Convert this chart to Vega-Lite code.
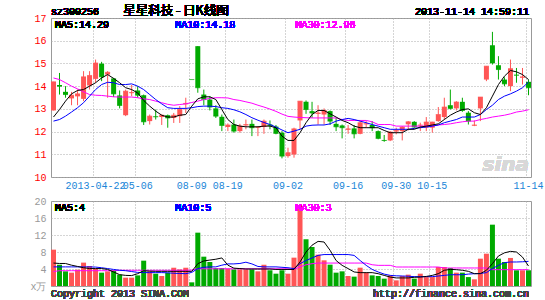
{
  "$schema": "https://vega.github.io/schema/vega-lite/v6.json",
  "background": "white",
  "padding": {"left": 29, "top": 4, "right": 0, "bottom": 0},
  "spacing": 24,
  "bounds": "flush",
  "config": {
    "view": {"stroke": "#999999", "strokeWidth": 1},
    "font": "Liberation Mono",
    "text": {"strokeWidth": 0},
    "axis": {"labelFont": "Liberation Mono", "labelFontSize": 10, "gridColor": "#aaaaaa", "gridDash": [1, 2], "gridWidth": 1, "domain": false, "ticks": false, "labelOverlap": false, "labelSeparation": 0},
    "axisY": {"labelOverlap": false},
    "axisLeft": {"labelOverlap": false},
    "axisQuantitative": {"labelOverlap": false}
  },
  "data": {"values": [
    {"d":"2013-04-11","o":12.93,"h":14.19,"l":12.93,"c":14.19,"v":8.55,"m5":12.64,"m10":12.46,"m30":14.36,"vm5":5.4,"vm10":4.5,"vm30":3.4},
    {"d":"2013-04-12","o":14.05,"h":14.58,"l":13.63,"c":14.0,"v":5.0,"m5":12.97,"m10":12.53,"m30":14.29,"vm5":5.3,"vm10":4.5,"vm30":3.6},
    {"d":"2013-04-15","o":13.75,"h":14.0,"l":13.49,"c":13.63,"v":3.45,"m5":13.34,"m10":12.68,"m30":14.15,"vm5":5.3,"vm10":4.5,"vm30":3.6},
    {"d":"2013-04-16","o":13.46,"h":13.75,"l":13.16,"c":13.6,"v":3.14,"m5":13.66,"m10":12.86,"m30":14.0,"vm5":4.9,"vm10":4.5,"vm30":3.6},
    {"d":"2013-04-17","o":13.55,"h":13.85,"l":13.16,"c":13.66,"v":3.84,"m5":13.81,"m10":13.05,"m30":13.88,"vm5":4.6,"vm10":4.5,"vm30":3.6},
    {"d":"2013-04-18","o":13.44,"h":14.66,"l":13.34,"c":14.41,"v":5.5,"m5":13.85,"m10":13.27,"m30":13.75,"vm5":4.3,"vm10":4.5,"vm30":3.6},
    {"d":"2013-04-19","o":14.03,"h":14.66,"l":13.85,"c":14.47,"v":4.7,"m5":14.0,"m10":13.56,"m30":13.63,"vm5":4.1,"vm10":4.5,"vm30":3.6},
    {"d":"2013-04-22","o":14.32,"h":15.17,"l":14.15,"c":15.02,"v":4.1,"m5":14.15,"m10":13.85,"m30":13.6,"vm5":4.1,"vm10":4.45,"vm30":3.6},
    {"d":"2013-04-23","o":14.99,"h":15.07,"l":14.22,"c":14.41,"v":3.14,"m5":14.36,"m10":14.07,"m30":13.59,"vm5":4.1,"vm10":4.3,"vm30":3.6},
    {"d":"2013-04-24","o":14.51,"h":14.66,"l":13.49,"c":14.61,"v":3.45,"m5":14.51,"m10":14.17,"m30":13.56,"vm5":3.9,"vm10":4.1,"vm30":3.6},
    {"d":"2013-04-25","o":14.34,"h":14.36,"l":13.52,"c":13.66,"v":3.7,"m5":14.34,"m10":14.15,"m30":13.53,"vm5":3.3,"vm10":3.9,"vm30":3.6},
    {"d":"2013-04-26","o":13.59,"h":13.81,"l":13.02,"c":13.15,"v":2.67,"m5":14.15,"m10":14.07,"m30":13.52,"vm5":2.67,"vm10":3.7,"vm30":3.7},
    {"d":"2013-05-02","o":12.72,"h":13.85,"l":12.68,"c":13.78,"v":1.96,"m5":13.93,"m10":14.07,"m30":13.52,"vm5":2.5,"vm10":3.6,"vm30":3.7},
    {"d":"2013-05-03","o":13.69,"h":14.05,"l":13.56,"c":13.72,"v":1.96,"m5":13.85,"m10":14.1,"m30":13.52,"vm5":2.45,"vm10":3.4,"vm30":3.7},
    {"d":"2013-05-06","o":13.81,"h":14.0,"l":13.49,"c":13.6,"v":2.5,"m5":13.7,"m10":14.0,"m30":13.49,"vm5":2.9,"vm10":3.2,"vm30":3.7},
    {"d":"2013-05-07","o":13.6,"h":13.63,"l":12.29,"c":12.43,"v":5.96,"m5":13.37,"m10":13.85,"m30":13.44,"vm5":3.6,"vm10":3.15,"vm30":3.7},
    {"d":"2013-05-08","o":12.46,"h":12.75,"l":12.31,"c":12.68,"v":3.45,"m5":13.12,"m10":13.63,"m30":13.41,"vm5":3.5,"vm10":3.15,"vm30":3.7},
    {"d":"2013-05-09","o":12.67,"h":12.97,"l":12.53,"c":12.65,"v":2.9,"m5":12.9,"m10":13.41,"m30":13.34,"vm5":3.45,"vm10":3.15,"vm30":3.7},
    {"d":"2013-05-10","o":12.64,"h":12.75,"l":12.29,"c":12.72,"v":2.35,"m5":12.72,"m10":13.22,"m30":13.27,"vm5":3.45,"vm10":3.15,"vm30":3.7},
    {"d":"2013-05-13","o":12.72,"h":12.75,"l":12.17,"c":12.6,"v":3.14,"m5":12.64,"m10":13.05,"m30":13.2,"vm5":3.45,"vm10":3.1,"vm30":3.7},
    {"d":"2013-05-14","o":12.6,"h":12.82,"l":12.38,"c":12.72,"v":4.3,"m5":12.64,"m10":13.02,"m30":13.16,"vm5":3.45,"vm10":3.0,"vm30":3.7},
    {"d":"2013-05-15","o":12.68,"h":13.12,"l":12.38,"c":12.97,"v":3.9,"m5":12.72,"m10":13.02,"m30":13.19,"vm5":3.45,"vm10":2.95,"vm30":3.7},
    {"d":"2013-05-16","o":13.2,"h":13.49,"l":12.82,"c":13.24,"v":4.3,"m5":12.75,"m10":13.02,"m30":13.22,"vm5":3.45,"vm10":2.9,"vm30":3.7},
    {"d":"2013-08-09","o":14.29,"h":14.29,"l":14.29,"c":14.29,"v":0.86,"m5":13.12,"m10":13.05,"m30":13.28,"vm5":3.45,"vm10":3.2,"vm30":3.75},
    {"d":"2013-08-12","o":15.76,"h":15.76,"l":13.71,"c":13.93,"v":12.55,"m5":13.44,"m10":13.1,"m30":13.34,"vm5":5.25,"vm10":4.1,"vm30":4.05},
    {"d":"2013-08-13","o":13.63,"h":13.85,"l":13.16,"c":13.41,"v":6.9,"m5":13.53,"m10":13.12,"m30":13.41,"vm5":5.9,"vm10":4.4,"vm30":4.05},
    {"d":"2013-08-14","o":13.41,"h":13.56,"l":12.93,"c":13.08,"v":5.65,"m5":13.53,"m10":13.12,"m30":13.46,"vm5":6.1,"vm10":4.5,"vm30":4.05},
    {"d":"2013-08-15","o":13.02,"h":13.16,"l":12.6,"c":12.68,"v":4.24,"m5":13.41,"m10":13.1,"m30":13.49,"vm5":6.3,"vm10":4.5,"vm30":4.05},
    {"d":"2013-08-16","o":12.65,"h":12.75,"l":12.02,"c":12.27,"v":4.24,"m5":12.97,"m10":13.05,"m30":13.49,"vm5":6.6,"vm10":4.9,"vm30":4.05},
    {"d":"2013-08-19","o":12.2,"h":12.36,"l":12.02,"c":12.29,"v":4.1,"m5":12.53,"m10":13.02,"m30":13.48,"vm5":4.9,"vm10":5.2,"vm30":4.05},
    {"d":"2013-08-20","o":12.31,"h":12.53,"l":11.95,"c":12.02,"v":3.9,"m5":12.31,"m10":12.96,"m30":13.41,"vm5":4.2,"vm10":5.2,"vm30":4.05},
    {"d":"2013-08-21","o":12.02,"h":12.34,"l":11.95,"c":12.24,"v":3.9,"m5":12.24,"m10":12.87,"m30":13.37,"vm5":4.1,"vm10":5.3,"vm30":4.05},
    {"d":"2013-08-22","o":12.27,"h":12.53,"l":12.1,"c":12.31,"v":3.9,"m5":12.21,"m10":12.75,"m30":13.31,"vm5":4.0,"vm10":5.6,"vm30":4.05},
    {"d":"2013-08-23","o":12.34,"h":12.53,"l":11.8,"c":12.17,"v":3.9,"m5":12.21,"m10":12.61,"m30":13.25,"vm5":4.0,"vm10":5.2,"vm30":4.05},
    {"d":"2013-08-26","o":12.17,"h":12.24,"l":11.8,"c":12.2,"v":3.45,"m5":12.21,"m10":12.5,"m30":13.16,"vm5":4.0,"vm10":4.6,"vm30":4.05},
    {"d":"2013-08-27","o":12.2,"h":12.53,"l":11.9,"c":12.46,"v":5.0,"m5":12.24,"m10":12.4,"m30":13.08,"vm5":4.0,"vm10":4.5,"vm30":4.05},
    {"d":"2013-08-28","o":12.31,"h":12.49,"l":12.1,"c":12.27,"v":3.7,"m5":12.24,"m10":12.31,"m30":12.99,"vm5":4.0,"vm10":4.5,"vm30":4.05},
    {"d":"2013-08-29","o":12.22,"h":12.29,"l":11.88,"c":11.92,"v":2.9,"m5":12.17,"m10":12.2,"m30":12.89,"vm5":3.9,"vm10":4.5,"vm30":4.05},
    {"d":"2013-08-30","o":11.95,"h":12.02,"l":10.82,"c":10.92,"v":3.7,"m5":11.8,"m10":12.07,"m30":12.77,"vm5":3.9,"vm10":4.4,"vm30":4.05},
    {"d":"2013-09-02","o":10.92,"h":11.29,"l":10.85,"c":11.07,"v":2.9,"m5":11.61,"m10":11.95,"m30":12.67,"vm5":3.9,"vm10":4.3,"vm30":4.05},
    {"d":"2013-09-03","o":10.99,"h":12.17,"l":10.85,"c":12.12,"v":6.67,"m5":11.61,"m10":12.02,"m30":12.64,"vm5":3.9,"vm10":4.1,"vm30":3.9},
    {"d":"2013-09-04","o":12.49,"h":13.34,"l":12.1,"c":13.34,"v":18.98,"m5":11.95,"m10":12.1,"m30":12.62,"vm5":5.65,"vm10":5.25,"vm30":4.5},
    {"d":"2013-09-05","o":13.31,"h":13.37,"l":12.78,"c":12.97,"v":10.98,"m5":12.39,"m10":12.24,"m30":12.61,"vm5":8.0,"vm10":6.0,"vm30":5.0},
    {"d":"2013-09-06","o":12.9,"h":13.31,"l":12.6,"c":12.82,"v":9.18,"m5":12.75,"m10":12.28,"m30":12.6,"vm5":9.6,"vm10":6.6,"vm30":5.25},
    {"d":"2013-09-09","o":12.78,"h":13.16,"l":12.31,"c":12.82,"v":7.37,"m5":12.93,"m10":12.29,"m30":12.6,"vm5":10.5,"vm10":7.2,"vm30":5.4},
    {"d":"2013-09-10","o":12.75,"h":13.02,"l":12.31,"c":12.93,"v":6.04,"m5":12.93,"m10":12.29,"m30":12.6,"vm5":10.35,"vm10":7.4,"vm30":5.4},
    {"d":"2013-09-11","o":12.9,"h":12.93,"l":12.29,"c":12.46,"v":5.02,"m5":12.78,"m10":12.34,"m30":12.6,"vm5":8.4,"vm10":7.4,"vm30":5.4},
    {"d":"2013-09-12","o":12.34,"h":12.6,"l":12.02,"c":12.21,"v":3.14,"m5":12.64,"m10":12.46,"m30":12.6,"vm5":6.0,"vm10":7.4,"vm30":5.4},
    {"d":"2013-09-13","o":12.27,"h":12.31,"l":11.7,"c":12.17,"v":3.45,"m5":12.49,"m10":12.53,"m30":12.53,"vm5":4.86,"vm10":7.4,"vm30":5.4},
    {"d":"2013-09-16","o":12.08,"h":12.29,"l":11.9,"c":12.12,"v":2.35,"m5":12.39,"m10":12.58,"m30":12.49,"vm5":4.1,"vm10":7.4,"vm30":5.4},
    {"d":"2013-09-17","o":12.14,"h":12.29,"l":11.7,"c":11.9,"v":2.2,"m5":12.24,"m10":12.53,"m30":12.49,"vm5":3.3,"vm10":7.2,"vm30":5.4},
    {"d":"2013-09-18","o":11.9,"h":12.46,"l":11.88,"c":12.39,"v":4.31,"m5":12.17,"m10":12.46,"m30":12.49,"vm5":3.14,"vm10":6.0,"vm30":5.4},
    {"d":"2013-09-23","o":12.32,"h":12.46,"l":12.17,"c":12.35,"v":3.14,"m5":12.17,"m10":12.39,"m30":12.49,"vm5":3.14,"vm10":4.86,"vm30":5.4},
    {"d":"2013-09-24","o":12.29,"h":12.46,"l":12.02,"c":12.17,"v":2.5,"m5":12.17,"m10":12.31,"m30":12.43,"vm5":3.14,"vm10":3.9,"vm30":5.0},
    {"d":"2013-09-25","o":12.02,"h":12.05,"l":11.66,"c":11.7,"v":2.35,"m5":12.17,"m10":12.24,"m30":12.31,"vm5":2.9,"vm10":3.3,"vm30":4.86},
    {"d":"2013-09-26","o":11.63,"h":11.85,"l":11.55,"c":11.61,"v":1.73,"m5":12.05,"m10":12.17,"m30":12.31,"vm5":2.5,"vm10":2.8,"vm30":4.86},
    {"d":"2013-09-27","o":11.61,"h":12.02,"l":11.58,"c":11.98,"v":2.5,"m5":11.95,"m10":12.1,"m30":12.31,"vm5":2.1,"vm10":2.5,"vm30":4.86},
    {"d":"2013-09-30","o":12.0,"h":12.17,"l":11.88,"c":12.05,"v":1.33,"m5":11.95,"m10":12.1,"m30":12.24,"vm5":1.9,"vm10":2.4,"vm30":4.47},
    {"d":"2013-10-08","o":12.02,"h":12.24,"l":11.61,"c":12.2,"v":2.35,"m5":11.95,"m10":12.1,"m30":12.24,"vm5":1.9,"vm10":2.35,"vm30":4.47},
    {"d":"2013-10-09","o":12.32,"h":12.46,"l":12.05,"c":12.43,"v":2.67,"m5":12.1,"m10":12.1,"m30":12.24,"vm5":1.9,"vm10":2.3,"vm30":4.47},
    {"d":"2013-10-10","o":12.43,"h":12.46,"l":12.17,"c":12.2,"v":1.73,"m5":12.1,"m10":12.14,"m30":12.24,"vm5":2.05,"vm10":2.2,"vm30":4.47},
    {"d":"2013-10-11","o":12.27,"h":12.39,"l":12.02,"c":12.29,"v":2.9,"m5":12.2,"m10":12.17,"m30":12.24,"vm5":2.1,"vm10":2.2,"vm30":4.47},
    {"d":"2013-10-14","o":12.17,"h":12.64,"l":12.02,"c":12.42,"v":2.1,"m5":12.24,"m10":12.2,"m30":12.24,"vm5":2.25,"vm10":2.2,"vm30":4.47},
    {"d":"2013-10-15","o":12.17,"h":12.43,"l":11.95,"c":12.42,"v":2.1,"m5":12.29,"m10":12.24,"m30":12.24,"vm5":2.5,"vm10":2.2,"vm30":4.47},
    {"d":"2013-10-24","o":12.46,"h":13.08,"l":12.43,"c":12.75,"v":4.47,"m5":12.34,"m10":12.29,"m30":12.29,"vm5":2.9,"vm10":2.35,"vm30":4.47},
    {"d":"2013-10-25","o":12.64,"h":13.49,"l":12.53,"c":13.08,"v":4.47,"m5":12.53,"m10":12.39,"m30":12.31,"vm5":3.7,"vm10":2.5,"vm30":4.24},
    {"d":"2013-10-28","o":13.16,"h":13.85,"l":12.97,"c":13.02,"v":4.24,"m5":12.72,"m10":12.46,"m30":12.34,"vm5":3.9,"vm10":2.65,"vm30":4.24},
    {"d":"2013-10-29","o":13.02,"h":13.34,"l":12.93,"c":13.3,"v":3.14,"m5":12.86,"m10":12.53,"m30":12.39,"vm5":3.84,"vm10":2.65,"vm30":4.24},
    {"d":"2013-10-30","o":13.31,"h":13.49,"l":12.87,"c":12.93,"v":3.14,"m5":12.97,"m10":12.64,"m30":12.43,"vm5":3.7,"vm10":2.65,"vm30":4.24},
    {"d":"2013-10-31","o":12.83,"h":12.9,"l":12.31,"c":12.46,"v":2.1,"m5":13.0,"m10":12.64,"m30":12.46,"vm5":3.45,"vm10":2.8,"vm30":4.24},
    {"d":"2013-11-01","o":12.26,"h":12.49,"l":12.24,"c":12.29,"v":1.57,"m5":12.83,"m10":12.64,"m30":12.46,"vm5":2.9,"vm10":2.9,"vm30":4.24},
    {"d":"2013-11-04","o":13.02,"h":13.52,"l":12.46,"c":13.52,"v":6.43,"m5":12.75,"m10":12.75,"m30":12.53,"vm5":2.9,"vm10":2.95,"vm30":4.24},
    {"d":"2013-11-05","o":14.29,"h":14.88,"l":14.22,"c":14.88,"v":7.6,"m5":13.05,"m10":12.97,"m30":12.58,"vm5":3.7,"vm10":3.14,"vm30":4.24},
    {"d":"2013-11-06","o":15.8,"h":16.39,"l":14.95,"c":15.02,"v":14.43,"m5":13.56,"m10":13.16,"m30":12.64,"vm5":5.25,"vm10":4.1,"vm30":3.84},
    {"d":"2013-11-07","o":14.92,"h":15.32,"l":14.29,"c":14.73,"v":6.43,"m5":14.07,"m10":13.41,"m30":12.68,"vm5":7.06,"vm10":4.86,"vm30":3.84},
    {"d":"2013-11-08","o":14.29,"h":14.39,"l":14.0,"c":14.1,"v":5.65,"m5":14.44,"m10":13.56,"m30":12.72,"vm5":7.8,"vm10":5.5,"vm30":3.84},
    {"d":"2013-11-11","o":14.0,"h":15.17,"l":13.78,"c":14.77,"v":6.6,"m5":14.69,"m10":13.66,"m30":12.78,"vm5":8.15,"vm10":5.65,"vm30":3.84},
    {"d":"2013-11-12","o":14.5,"h":14.8,"l":14.15,"c":14.48,"v":3.7,"m5":14.63,"m10":13.78,"m30":12.86,"vm5":8.0,"vm10":5.65,"vm30":3.84},
    {"d":"2013-11-13","o":14.37,"h":14.8,"l":14.07,"c":14.41,"v":3.7,"m5":14.51,"m10":13.93,"m30":12.9,"vm5":6.8,"vm10":5.7,"vm30":3.84},
    {"d":"2013-11-14","o":14.19,"h":14.29,"l":13.6,"c":13.93,"v":3.7,"m5":14.29,"m10":14.18,"m30":12.96,"vm5":4.7,"vm10":5.8,"vm30":3.84}
  ]},
  "vconcat": [
    {
      "width": 480,
      "height": 159,
      "encoding": {
        "x": {"field": "d", "type": "ordinal", "sort": null, "title": null,
          "scale": {"paddingInner": 0.17, "paddingOuter": 0},
          "axis": {"values": ["2013-04-22","2013-05-06","2013-08-09","2013-08-19","2013-09-02","2013-09-16","2013-09-30","2013-10-15","2013-11-14"],
            "bandPosition": 0, "labelExpr": "datum.value == '2013-04-22' ? datum.value : substring(datum.value, 5)",
            "grid": true, "labelAngle": 0, "labelAlign": "center", "labelColor": "#1a86d8", "labelPadding": 3, "labelOverlap": false, "labelBound": false, "labelFlush": false}}
      },
      "layer": [
        {"mark": {"type": "rule", "strokeWidth": 1},
         "encoding": {
           "y": {"field": "l", "type": "quantitative", "title": null, "scale": {"domain": [10, 17], "nice": false, "zero": false},
             "axis": {"values": [10,11,12,13,14,15,16,17], "tickCount": 8, "grid": true, "labelColor": "#ff0000", "labelPadding": 5, "labelOverlap": false, "labelSeparation": 0, "labelBound": false}},
           "y2": {"field": "h"},
           "color": {"condition": {"test": "datum.c > datum.o", "value": "#ff5555"}, "value": "#00aa00"}}},
        {"mark": {"type": "bar"},
         "encoding": {
           "y": {"field": "o", "type": "quantitative", "title": null},
           "y2": {"field": "c"},
           "color": {"condition": {"test": "datum.c > datum.o", "value": "#ff5555"}, "value": "#00aa00"}}},
        {"mark": {"type": "tick", "thickness": 1, "size": 5},
         "encoding": {
           "y": {"field": "c", "type": "quantitative", "title": null},
           "color": {"condition": {"test": "datum.c > datum.o", "value": "#ff5555"}, "value": "#00aa00"}}},
        {"mark": {"type": "line", "color": "#ff00ff", "strokeWidth": 1},
         "encoding": {"y": {"field": "m30", "type": "quantitative", "title": null}}},
        {"mark": {"type": "line", "color": "#0000ff", "strokeWidth": 1},
         "encoding": {"y": {"field": "m10", "type": "quantitative", "title": null}}},
        {"mark": {"type": "line", "color": "#000000", "strokeWidth": 1},
         "encoding": {"y": {"field": "m5", "type": "quantitative", "title": null}}},
        {"mark": {"type": "text", "align": "left", "baseline": "top", "dx": 4, "dy": 2, "fontSize": 10, "font": "Liberation Mono", "fill": "#000000", "strokeWidth": 0},
         "encoding": {"x": {"datum": "2013-04-11", "type": "ordinal", "bandPosition": 0}, "y": {"datum": 17, "type": "quantitative"}, "text": {"value": "MA5:14.29"}}},
        {"mark": {"type": "text", "align": "left", "baseline": "top", "dx": 4, "dy": 2, "fontSize": 10, "font": "Liberation Mono", "fill": "#0000ff", "strokeWidth": 0},
         "encoding": {"x": {"datum": "2013-05-14", "type": "ordinal", "bandPosition": 0}, "y": {"datum": 17, "type": "quantitative"}, "text": {"value": "MA10:14.18"}}},
        {"mark": {"type": "text", "align": "left", "baseline": "top", "dx": 4, "dy": 2, "fontSize": 10, "font": "Liberation Mono", "fill": "#ff00ff", "strokeWidth": 0},
         "encoding": {"x": {"datum": "2013-09-03", "type": "ordinal", "bandPosition": 0}, "y": {"datum": 17, "type": "quantitative"}, "text": {"value": "MA30:12.96"}}},
        {"mark": {"type": "text", "align": "left", "baseline": "alphabetic", "dy": -3, "fontSize": 10, "font": "Liberation Mono", "fill": "#000000", "strokeWidth": 0},
         "encoding": {"x": {"datum": "2013-04-11", "type": "ordinal", "bandPosition": 0}, "y": {"datum": 17, "type": "quantitative"}, "text": {"value": "sz300256"}}},
        {"mark": {"type": "text", "align": "left", "baseline": "alphabetic", "dy": -3, "fontSize": 12.5, "font": "Noto Sans CJK SC", "fill": "#000000", "strokeWidth": 0},
         "encoding": {"x": {"datum": "2013-05-02", "type": "ordinal", "bandPosition": 0}, "y": {"datum": 17, "type": "quantitative"}, "text": {"value": "星星科技 - 日K线图"}}},
        {"mark": {"type": "text", "align": "right", "baseline": "alphabetic", "dy": -3, "dx": -2, "fontSize": 10, "font": "Liberation Mono", "fill": "#000000", "strokeWidth": 0},
         "encoding": {"x": {"datum": "2013-11-14", "type": "ordinal", "bandPosition": 1}, "y": {"datum": 17, "type": "quantitative"}, "text": {"value": "2013-11-14 14:59:11"}}},
        {"mark": {"type": "text", "align": "right", "baseline": "alphabetic", "dx": -2, "fontSize": 20, "font": "DejaVu Sans", "fontStyle": "italic", "fontWeight": "bold", "fill": "#d8d8d8", "strokeWidth": 0},
         "encoding": {"x": {"datum": "2013-11-14", "type": "ordinal", "bandPosition": 1}, "y": {"datum": 10.25, "type": "quantitative"}, "text": {"value": "sina"}}}
      ]
    },
    {
      "width": 480,
      "height": 85,
      "encoding": {
        "x": {"field": "d", "type": "ordinal", "sort": null, "title": null,
          "scale": {"paddingInner": 0.17, "paddingOuter": 0},
          "axis": {"values": ["2013-04-22","2013-05-06","2013-08-09","2013-08-19","2013-09-02","2013-09-16","2013-09-30","2013-10-15","2013-11-14"],
            "bandPosition": 0, "grid": true, "labels": false}}
      },
      "layer": [
        {"mark": {"type": "bar"},
         "encoding": {
           "y": {"field": "v", "type": "quantitative", "title": null, "scale": {"domain": [0, 20], "nice": false},
             "axis": {"values": [0,4,8,12,16,20], "tickCount": 6, "grid": true, "labelColor": "#999999", "labelPadding": 5, "labelOverlap": false, "labelSeparation": 0, "labelBound": false,
               "labelExpr": "datum.value == 0 ? 'x万' : datum.label"}},
           "color": {"condition": {"test": "datum.c > datum.o", "value": "#ff5555"}, "value": "#00aa00"}}},
        {"mark": {"type": "line", "color": "#ff00ff", "strokeWidth": 1},
         "encoding": {"y": {"field": "vm30", "type": "quantitative", "title": null}}},
        {"mark": {"type": "line", "color": "#0000ff", "strokeWidth": 1},
         "encoding": {"y": {"field": "vm10", "type": "quantitative", "title": null}}},
        {"mark": {"type": "line", "color": "#000000", "strokeWidth": 1},
         "encoding": {"y": {"field": "vm5", "type": "quantitative", "title": null}}},
        {"mark": {"type": "text", "align": "left", "baseline": "top", "dx": 4, "dy": 2, "fontSize": 10, "font": "Liberation Mono", "fill": "#000000", "strokeWidth": 0},
         "encoding": {"x": {"datum": "2013-04-11", "type": "ordinal", "bandPosition": 0}, "y": {"datum": 20, "type": "quantitative"}, "text": {"value": "MA5:4"}}},
        {"mark": {"type": "text", "align": "left", "baseline": "top", "dx": 4, "dy": 2, "fontSize": 10, "font": "Liberation Mono", "fill": "#0000ff", "strokeWidth": 0},
         "encoding": {"x": {"datum": "2013-05-14", "type": "ordinal", "bandPosition": 0}, "y": {"datum": 20, "type": "quantitative"}, "text": {"value": "MA10:5"}}},
        {"mark": {"type": "text", "align": "left", "baseline": "top", "dx": 4, "dy": 2, "fontSize": 10, "font": "Liberation Mono", "fill": "#ff00ff", "strokeWidth": 0},
         "encoding": {"x": {"datum": "2013-09-03", "type": "ordinal", "bandPosition": 0}, "y": {"datum": 20, "type": "quantitative"}, "text": {"value": "MA30:3"}}},
        {"mark": {"type": "text", "align": "left", "baseline": "top", "dy": 3, "fontSize": 10, "font": "Liberation Mono", "fill": "#444444", "strokeWidth": 0},
         "encoding": {"x": {"datum": "2013-04-11", "type": "ordinal", "bandPosition": 0}, "y": {"datum": 0, "type": "quantitative"}, "text": {"value": "Copyright 2013 SINA.COM"}}},
        {"mark": {"type": "text", "align": "right", "baseline": "top", "dy": 3, "dx": -2, "fontSize": 10, "font": "Liberation Mono", "fill": "#444444", "strokeWidth": 0},
         "encoding": {"x": {"datum": "2013-11-14", "type": "ordinal", "bandPosition": 1}, "y": {"datum": 0, "type": "quantitative"}, "text": {"value": "http://finance.sina.com.cn"}}}
      ]
    }
  ]
}
